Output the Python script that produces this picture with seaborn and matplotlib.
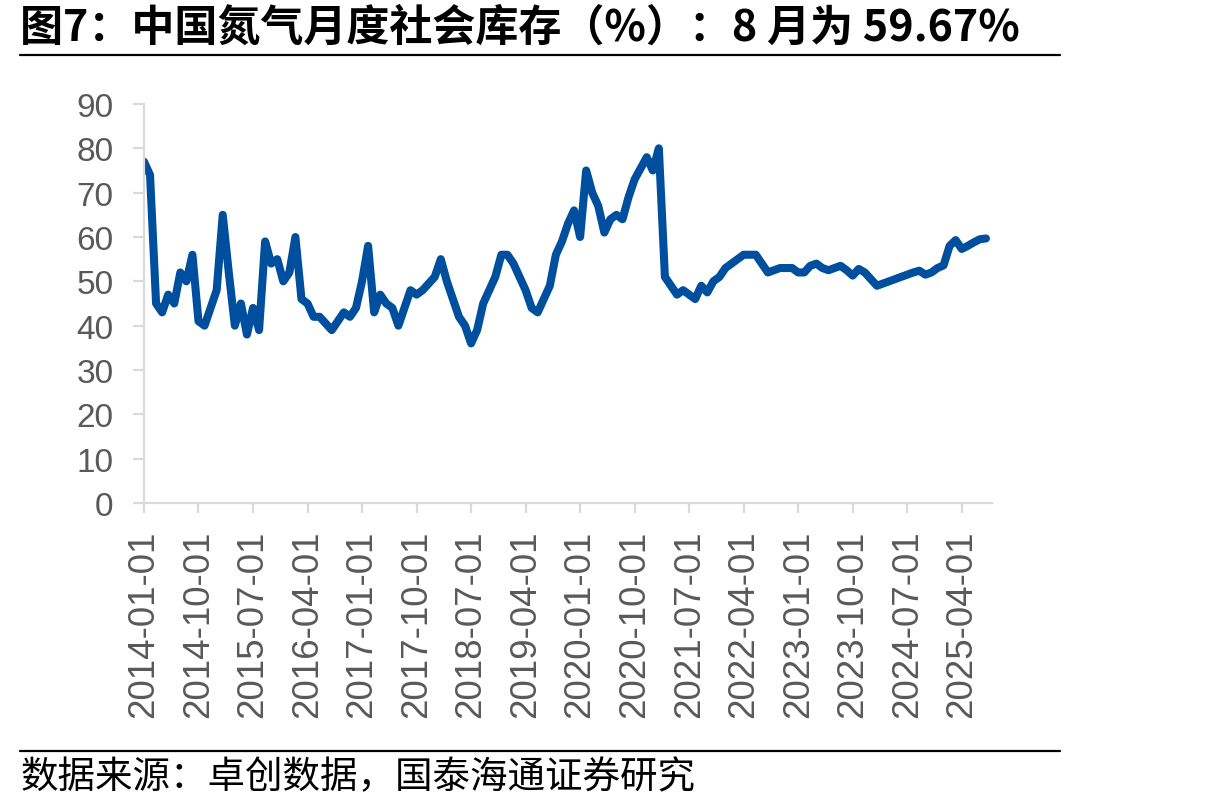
import numpy as np
import pandas as pd
import matplotlib
matplotlib.use("Agg")
import matplotlib.pyplot as plt
from matplotlib.lines import Line2D
import seaborn as sns

# Data: monthly social inventory of nitrogen in China (%), 2014-01 .. 2025-08
months = pd.date_range("2014-01-01", "2025-08-01", freq="MS")
inventory = [
    77, 74, 45, 43, 47, 45, 52, 50, 56, 41, 40, 44,          # 2014
    48, 65, 52, 40, 45, 38, 44, 39, 59, 54, 55, 50,          # 2015
    52, 60, 46, 45, 42, 42, 40.5, 39, 41, 43, 42, 44,        # 2016
    50, 58, 43, 47, 45, 44, 40, 44, 48, 47, 48, 49.5,        # 2017
    51, 55, 50, 46, 42, 40, 36, 39, 45, 48, 51, 56,          # 2018
    56, 54, 51, 48, 44, 43, 46, 49, 56, 59, 63, 66,          # 2019
    60, 75, 70, 67, 61, 64, 65, 64, 69, 73, 75.5, 78,        # 2020
    75, 80, 51, 49, 47, 48, 47, 46, 49, 47.5, 50, 51,        # 2021
    53, 54, 55, 56, 56, 56, 54, 52, 52.5, 53, 53, 53,        # 2022
    52, 52, 53.5, 54, 53, 52.5, 53, 53.5, 52.5, 51.3, 52.8, 52,  # 2023
    50.5, 49, 49.5, 50, 50.5, 51, 51.5, 52, 52.4, 51.5, 52, 53,  # 2024
    53.6, 58, 59.3, 57.3, 58, 58.8, 59.5, 59.67,             # 2025
]
tick_step = 9
y_ticks = [0, 10, 20, 30, 40, 50, 60, 70, 80, 90]

title_text = "图7：中国氮气月度社会库存（%）：8 月为 59.67%"
source_text = "数据来源：卓创数据，国泰海通证券研究"

df = pd.DataFrame({"idx": np.arange(len(months)), "value": inventory})

sns.set_style("white")
plt.rcParams["font.family"] = ["Liberation Sans", "Noto Sans CJK SC", "DejaVu Sans"]

fig = plt.figure(figsize=(12.16, 8.12), dpi=100)
ax = fig.add_axes([0.1184, 0.3793, 0.6974, 0.4914])

sns.lineplot(data=df, x="idx", y="value", ax=ax, color="#004F9E", linewidth=5.8)

ax.set_xlim(0, 140)
ax.set_ylim(0, 90)
ax.set_yticks(y_ticks)
tick_pos = np.arange(0, len(months), tick_step)
ax.set_xticks(tick_pos)
ax.set_xticklabels([months[i].strftime("%Y-%m-%d") for i in tick_pos], rotation=90)
ax.set_xlabel("")
ax.set_ylabel("")

grey = "#d9d9d9"
for side in ["top", "right"]:
    ax.spines[side].set_visible(False)
for side in ["left", "bottom"]:
    ax.spines[side].set_color(grey)
    ax.spines[side].set_linewidth(1.6)
ax.tick_params(axis="y", direction="out", length=8, width=1.6, color=grey,
               labelsize=24, labelcolor="#595959", pad=14, left=True)
ax.tick_params(axis="x", direction="out", length=7, width=1.6, color=grey,
               labelsize=26.5, labelcolor="#595959", pad=12, bottom=True)

# title, rules and source
cjk = ["Noto Sans CJK SC", "DejaVu Sans"]
fig.text(0.0165, 0.9655, title_text, fontsize=31, fontweight="bold",
         family=cjk, va="center", ha="left", color="black")
fig.add_artist(Line2D([0.0165, 0.8717], [0.931, 0.931], color="black", linewidth=1.6))
fig.add_artist(Line2D([0.0165, 0.8717], [0.0739, 0.0739], color="black", linewidth=1.6))
fig.text(0.0165, 0.0419, source_text, fontsize=27, family=cjk,
         va="center", ha="left", color="black")

fig.savefig("out.png", dpi=100)
